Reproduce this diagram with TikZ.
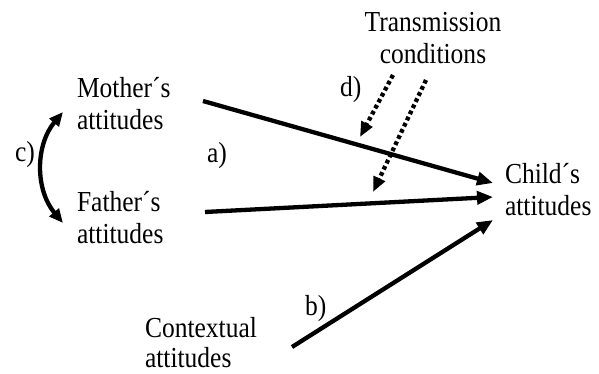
\documentclass[tikz,border=0pt]{standalone}
\usepackage{fontspec}
\setmainfont[FakeStretch=0.88]{Liberation Serif}
\usetikzlibrary{arrows.meta}
\begin{document}
\begin{tikzpicture}[x=1pt,y=1pt,
  lbl/.style={inner sep=0pt,outer sep=0pt,align=left,font=\fontsize{29}{32.5}\selectfont},
  conn/.style={line width=4.3pt,-{Triangle[length=16pt,width=13pt]}},
  dotconn/.style={line width=4.3pt,dash pattern=on 3.8pt off 3pt,-{Triangle[length=15pt,width=12pt]}}]
\useasboundingbox (0,0) rectangle (599,-374);
\node[lbl,anchor=north west] (mother) at (77,-77) {Mother´s\\attitudes};
\node[lbl,anchor=north west] (father) at (77,-191) {Father´s\\attitudes};
\node[lbl,anchor=north west] (child) at (505,-163) {Child´s\\attitudes};
\node[lbl,anchor=north west,font=\fontsize{29}{30}\selectfont] (context) at (145,-317) {Contextual\\attitudes};
\node[lbl,align=center,anchor=north] (trans) at (433,-12) {Transmission\\conditions};
\node[lbl,anchor=base west] (lc) at (15,-162) {c)};
\node[lbl,anchor=base west] (la) at (207,-163) {a)};
\node[lbl,anchor=base west] (lb) at (305,-315) {b)};
\node[lbl,anchor=base west] (ld) at (340,-97) {d)};
\coordinate (m1) at (203,-101);
\coordinate (f1) at (205,-212);
\coordinate (x1) at (292,-347);
\coordinate (c1) at (493,-183);
\coordinate (c2) at (493,-197);
\coordinate (c3) at (493,-220);
\coordinate (cm) at (63,-112);
\coordinate (cf) at (63,-223);
\coordinate (t1) at (393,-75);
\coordinate (t2) at (426,-80);
\coordinate (e1) at (360,-137);
\coordinate (e2) at (373,-192);
\draw[conn] (m1) -- (c1);
\draw[conn] (f1) -- (c2);
\draw[conn] (x1) -- (c3);
\draw[line width=4.3pt,{Triangle[length=14pt,width=12pt]}-{Triangle[length=14pt,width=12pt]}] (cm) to[bend right=40] (cf);
\draw[dotconn] (t1) -- (e1);
\draw[dotconn] (t2) -- (e2);
\end{tikzpicture}
\end{document}
